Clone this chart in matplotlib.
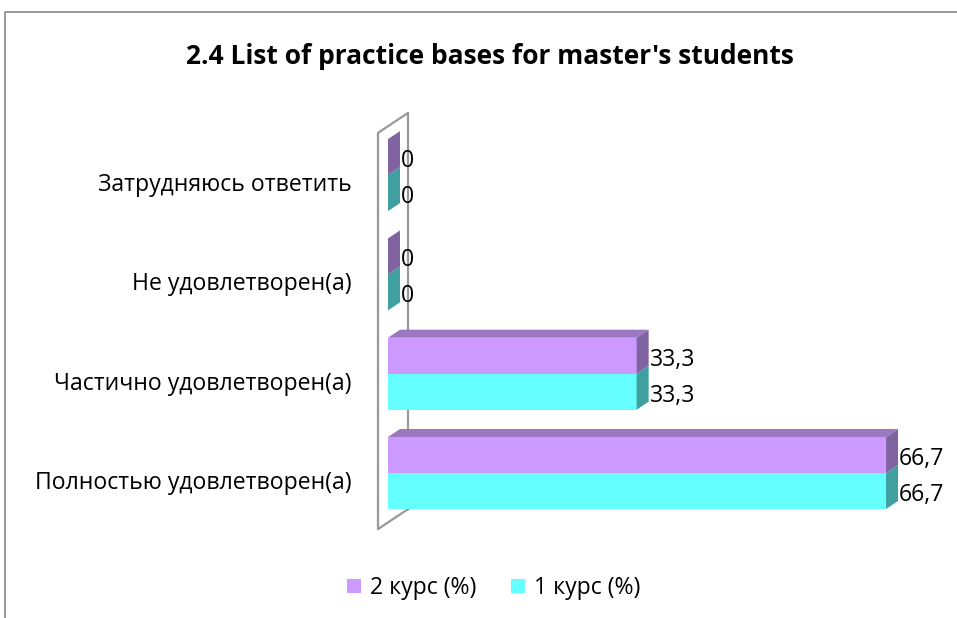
import matplotlib
matplotlib.use('Agg')
import matplotlib.pyplot as plt
from matplotlib.patches import Polygon, Patch
from matplotlib.lines import Line2D

plt.rcParams['font.family'] = ['Open Sans', 'DejaVu Sans']

categories = ['Полностью удовлетворен(а)', 'Частично удовлетворен(а)',
              'Не удовлетворен(а)', 'Затрудняюсь ответить']
course1 = [66.7, 33.3, 0, 0]   # 1 курс (%)
course2 = [66.7, 33.3, 0, 0]   # 2 курс (%)
series_names = ['2 курс (%)', '1 курс (%)']

front_c1, side_c1 = '#66FFFF', '#40A0A0'
front_c2, top_c2, side_c2 = '#CC99FF', '#9B77BF', '#8064A2'

W, H = 957, 618
fig = plt.figure(figsize=(W / 100, H / 100), dpi=100)
ax = fig.add_axes([0, 0, 1, 1])

# pixel geometry of the plot area
x0_px, px_per_unit = 388, 7.467
y0_px, px_per_cat = 473, 99.3
ax.set_xlim(-x0_px / px_per_unit, (W - x0_px) / px_per_unit)
ax.set_ylim((y0_px - H) / px_per_cat, y0_px / px_per_cat)
ax.axis('off')

dx = 12 / px_per_unit      # 3d depth offset
dy = 8 / px_per_cat
h = 36 / px_per_cat        # bar thickness

# back wall outline
n = len(categories)
wx0, wx1 = -10 / px_per_unit, 20 / px_per_unit
wb, wt = -0.565, n - 1 + 0.425
wdy = 20 / px_per_cat
ax.add_line(Line2D([wx1, wx0, wx0, wx1, wx1], [wb + wdy, wb, wt, wt + wdy, wb + wdy],
                   color='#999999', lw=1.6, zorder=1))


def bar3d(v, y, front, side, top=None):
    ax.add_patch(Polygon([(0, y), (v, y), (v, y + h), (0, y + h)], closed=True,
                         facecolor=front, edgecolor='none', zorder=3))
    ax.add_patch(Polygon([(v, y), (v + dx, y + dy), (v + dx, y + h + dy), (v, y + h)],
                         closed=True, facecolor=side, edgecolor='none', zorder=3))
    if top is not None and v > 0:
        ax.add_patch(Polygon([(0, y + h), (dx, y + h + dy), (v + dx, y + h + dy), (v, y + h)],
                             closed=True, facecolor=top, edgecolor='none', zorder=3))


lab_fs = 16.6
for i, cat in enumerate(categories):
    bar3d(course1[i], i - h, front_c1, side_c1)
    bar3d(course2[i], i, front_c2, side_c2, top_c2)
    ax.text(course1[i] + dx + 0.15, i - h / 2 - 0.04, f'{course1[i]:g}'.replace('.', ','),
            ha='left', va='center', fontsize=lab_fs, zorder=5)
    ax.text(course2[i] + dx + 0.15, i + h / 2 - 0.04, f'{course2[i]:g}'.replace('.', ','),
            ha='left', va='center', fontsize=lab_fs, zorder=5)
    ax.text(-36 / px_per_unit, i - 0.1, cat, ha='right', va='center', fontsize=lab_fs)

fig.text(490 / W, 1 - 56 / H, "2.4 List of practice bases for master's students",
         ha='center', va='center', fontsize=19, fontweight='bold')

handles = [Patch(facecolor=front_c2, edgecolor='none'),
           Patch(facecolor=front_c1, edgecolor='none')]
fig.legend(handles, series_names, loc='center', bbox_to_anchor=(494 / W, 1 - 588 / H),
           ncol=2, frameon=False, fontsize=lab_fs, handlelength=0.6, handleheight=0.6,
           handletextpad=0.4, columnspacing=1.5)

# chart area border (only top and left edges are visible)
fig.add_artist(Line2D([5 / W, 5 / W, 1], [0, 1 - 12 / H, 1 - 12 / H],
                      transform=fig.transFigure, color='#888888', lw=1.2))

fig.savefig('out.png', dpi=100)
